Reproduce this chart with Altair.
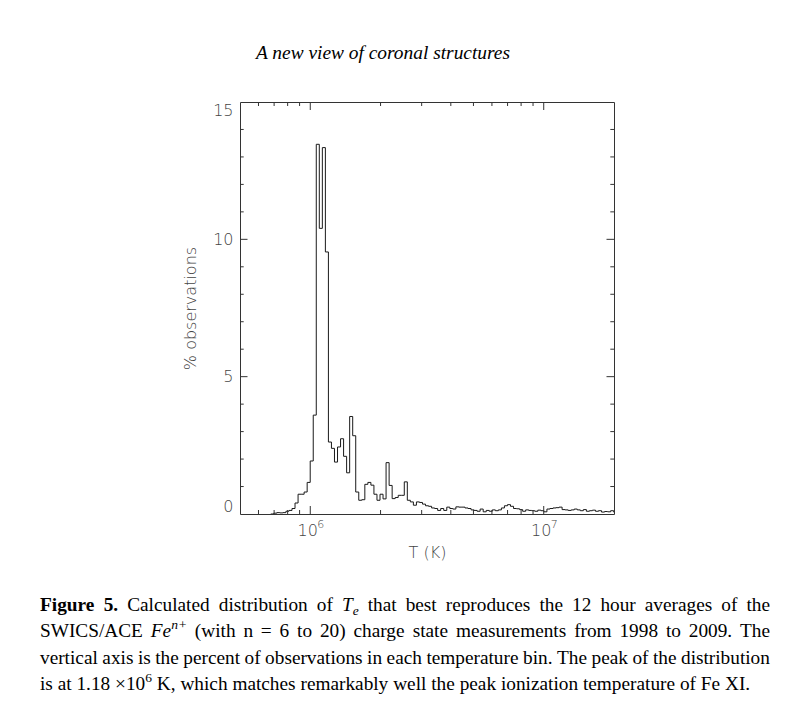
import math
import altair as alt
import pandas as pd

# ---------------- data ----------------
BIN_START_LOG = 6.0257      # log10(T) of the left edge of bin index 0 (tallest bar)
BIN_WIDTH_DEX = 0.013       # bin width in log10(T)
BIN_INDEX_FIRST = -15       # index of the first listed bin
PCT_OBS = [
    0.0, 0.03, 0.05, 0.04, 0.05, 0.1, 0.13, 0.2, 0.4, 0.72, 0.72, 0.8, 1.15, 1.93, 3.6,
    13.46, 10.4, 13.34, 9.54, 2.62, 2.39, 1.89, 2.44, 2.74, 2.1,
    1.5, 3.55, 2.85, 0.8, 0.5, 0.52, 1.08, 1.15, 1.05, 0.72,
    0.5, 0.72, 0.55, 1.87, 1.04, 0.56, 0.6, 0.68, 0.68, 1.17,
    0.5, 0.44, 0.32, 0.44, 0.42, 0.36, 0.3, 0.28, 0.22, 0.2,
    0.13, 0.2, 0.13, 0.25, 0.2, 0.18, 0.26, 0.25, 0.25, 0.22,
    0.2, 0.15, 0.13, 0.1, 0.18, 0.08, 0.13, 0.1, 0.15, 0.12,
    0.15, 0.22, 0.3, 0.34, 0.28, 0.2, 0.19, 0.16, 0.1, 0.15,
    0.13, 0.12, 0.1, 0.14, 0.12, 0.08, 0.18, 0.2, 0.22, 0.23,
    0.25, 0.16, 0.15, 0.13, 0.15, 0.18, 0.15, 0.12, 0.16, 0.1,
    0.12, 0.14, 0.1, 0.12, 0.07, 0.09, 0.08, 0.12, 0.07,
]

X_DOMAIN = [5e5, 2e7]
Y_DOMAIN = [0, 15]
X_MAJOR = [1e6, 1e7]
X_MAJOR_EXP = ["6", "7"]
X_MINOR = [6e5, 7e5, 8e5, 9e5, 2e6, 3e6, 4e6, 5e6, 6e6, 7e6, 8e6, 9e6]
Y_MAJOR = [0, 5, 10, 15]
Y_MINOR = [1, 2, 3, 4, 6, 7, 8, 9, 11, 12, 13, 14]
X_TITLE = "T (K)"
Y_TITLE = "% observations"
HEAD_TITLE = "A new view of coronal structures"

# caption: lines -> tokens -> pieces (text, style)
CAPTION = [
    [[("Figure", "b")], [("5.", "b")], [("Calculated", "r")], [("distribution", "r")], [("of", "r")],
     [("T", "i"), ("e", "isub")], [("that", "r")], [("best", "r")], [("reproduces", "r")], [("the", "r")],
     [("12", "r")], [("hour", "r")], [("averages", "r")], [("of", "r")], [("the", "r")]],
    [[("SWICS/ACE", "r")], [("Fe", "i"), ("n+", "isup")], [("(with", "r")], [("n", "r")], [("=", "r")],
     [("6", "r")], [("to", "r")], [("20)", "r")], [("charge", "r")], [("state", "r")],
     [("measurements", "r")], [("from", "r")], [("1998", "r")], [("to", "r")], [("2009.", "r")], [("The", "r")]],
    [[(w, "r")] for w in "vertical axis is the percent of observations in each temperature bin. The peak of the distribution".split()],
    [[("is", "r")], [("at", "r")], [("1.18", "r")], [("×10", "r"), ("6", "rsup")], [("K,", "r")],
     [("which", "r")], [("matches", "r")], [("remarkably", "r")], [("well", "r")], [("the", "r")],
     [("peak", "r")], [("ionization", "r")], [("temperature", "r")], [("of", "r")], [("Fe", "r")], [("XI.", "r")]],
]
CAPTION_JUSTIFY = [True, True, True, False]

# ---------------- layout ----------------
W, H = 374, 412
PAD_L, PAD_T = 232, 94
ORIGIN_X, ORIGIN_Y = 8 + PAD_L, 8 + PAD_T   # page position of plot-area origin
LINE_COLOR = "#1a1a1a"
AX_COLOR = "#333333"
LABEL_COLOR = "#444444"
LABEL_FONT = "DejaVu Sans"
SERIF = "Liberation Serif"
FS = 19.3
SMALL = 0.7

ppu = H / (Y_DOMAIN[1] - Y_DOMAIN[0])
ppd = W / math.log10(X_DOMAIN[1] / X_DOMAIN[0])

xscale = alt.Scale(type="log", domain=X_DOMAIN, nice=False)
yscale = alt.Scale(domain=Y_DOMAIN, nice=False, zero=False)
XAXIS = alt.Axis(values=X_MAJOR, labelExpr="'10'", labelOffset=-3, ticks=False, domain=False,
                 grid=False, labelFont=LABEL_FONT, labelFontSize=16, labelFontWeight=200,
                 labelColor=LABEL_COLOR, labelPadding=8, title=X_TITLE, titleFont=LABEL_FONT,
                 titleFontSize=16, titleFontWeight=200, titleColor=LABEL_COLOR, titlePadding=6)
YAXIS = alt.Axis(values=Y_MAJOR, ticks=False, domain=False, grid=False, labelFlush=True,
                 labelFont=LABEL_FONT, labelFontSize=16, labelFontWeight=200,
                 labelColor=LABEL_COLOR, labelPadding=7, title=Y_TITLE, titleFont=LABEL_FONT,
                 titleFontSize=16, titleFontWeight=200, titleColor=LABEL_COLOR, titlePadding=14)


def X(field):
    return alt.X(field, type="quantitative", scale=xscale, axis=XAXIS)


def Y(field):
    return alt.Y(field, type="quantitative", scale=yscale, axis=YAXIS)


# ---------------- histogram outline ----------------
n = len(PCT_OBS)
edges = [10 ** (BIN_START_LOG + (BIN_INDEX_FIRST + k) * BIN_WIDTH_DEX) for k in range(n + 1)]
hist = pd.DataFrame({"T": edges, "pct": PCT_OBS + [PCT_OBS[-1]]})

line = alt.Chart(hist).mark_line(
    interpolate="step-after", clip=True, color=LINE_COLOR, strokeWidth=1
).encode(x=X("T"), y=Y("pct"))

# ---------------- inward ticks ----------------
XT_MAJ, XT_MIN, YT_MAJ, YT_MIN = 8.0, 4.0, 7.5, 3.7
rows = []
for vals, ln in ((X_MAJOR, XT_MAJ), (X_MINOR, XT_MIN)):
    for t in vals:
        d = ln / ppu
        rows.append(dict(x1=t, x2=t, y1=Y_DOMAIN[0], y2=Y_DOMAIN[0] + d))
        rows.append(dict(x1=t, x2=t, y1=Y_DOMAIN[1], y2=Y_DOMAIN[1] - d))
for vals, ln in ((Y_MAJOR[1:-1], YT_MAJ), (Y_MINOR, YT_MIN)):
    for v in vals:
        f = 10 ** (ln / ppd)
        rows.append(dict(x1=X_DOMAIN[0], x2=X_DOMAIN[0] * f, y1=v, y2=v))
        rows.append(dict(x1=X_DOMAIN[1], x2=X_DOMAIN[1] / f, y1=v, y2=v))
ticks = alt.Chart(pd.DataFrame(rows)).mark_rule(color=AX_COLOR, strokeWidth=1).encode(
    x=X("x1"), x2="x2:Q", y=Y("y1"), y2="y2:Q",
)


def to_data(px, py):
    """page pixel -> data coordinates of the shared scales"""
    return X_DOMAIN[0] * 10 ** ((px - ORIGIN_X) / ppd), Y_DOMAIN[1] - (py - ORIGIN_Y) / ppu


# exponents of the x tick labels (10^6, 10^7)
exp_rows = []
for t, e in zip(X_MAJOR, X_MAJOR_EXP):
    px = ORIGIN_X + math.log10(t / X_DOMAIN[0]) * ppd + 7
    tx, ty = to_data(px, 527.5)
    exp_rows.append(dict(text=e, tx=tx, ty=ty))
exps = alt.Chart(pd.DataFrame(exp_rows)).mark_text(
    font=LABEL_FONT, fontSize=11, fontWeight=200, color=LABEL_COLOR, align="left", baseline="alphabetic"
).encode(x=X("tx"), y=Y("ty"), text="text:N")

# ---------------- caption text (Times metrics, justified) ----------------
REG_W = {' ': 250, '(': 333, ')': 333, '+': 564, ',': 250, '-': 333, '.': 250, '/': 278, '=': 564, '×': 564}
REG_W.update({d: 500 for d in "0123456789"})
REG_W.update(dict(zip("ABCDEFGHIJKLMNOPQRSTUVWXYZ",
                      [722, 667, 667, 722, 611, 556, 722, 722, 333, 389, 722, 611, 889, 722, 722, 556, 722, 667, 556, 611, 722, 722, 944, 722, 722, 611])))
REG_W.update(dict(zip("abcdefghijklmnopqrstuvwxyz",
                      [444, 500, 444, 500, 444, 333, 500, 500, 278, 278, 500, 278, 778, 500, 500, 500, 500, 333, 389, 278, 500, 500, 722, 500, 500, 444])))
BOLD_W = dict(REG_W)
BOLD_W.update({'F': 611, 'u': 556, 'r': 444})
ITAL_W = dict(REG_W)
ITAL_W.update({'T': 556, 'F': 611, '+': 675})
STYLE_TABLE = {"r": REG_W, "b": BOLD_W, "i": ITAL_W, "isub": ITAL_W, "isup": ITAL_W, "rsup": REG_W}


def pw(text, style):
    sc = SMALL if style in ("isub", "isup", "rsup") else 1.0
    return sum(STYLE_TABLE[style].get(c, 500) for c in text) / 1000.0 * FS * sc


CAP_X0, CAP_X1 = 40, 770
CAP_BASE = [611, 637, 664, 690]
text_rows = []
for li, tokens in enumerate(CAPTION):
    widths = [sum(pw(t, s) for t, s in tok) for tok in tokens]
    if CAPTION_JUSTIFY[li]:
        gap = (CAP_X1 - CAP_X0 - sum(widths)) / (len(tokens) - 1)
    else:
        gap = 0.25 * FS
    x = CAP_X0
    for tok, wd in zip(tokens, widths):
        xx = x
        for t, s in tok:
            dy = 0.0
            if s == "isub":
                dy = 0.2 * FS
            elif s in ("isup", "rsup"):
                dy = -0.4 * FS
            tx, ty = to_data(xx, CAP_BASE[li] + dy)
            text_rows.append(dict(text=t, tx=tx, ty=ty, style=s))
            xx += pw(t, s)
        x += wd + gap
tx, ty = to_data(383, 59)
text_rows.append(dict(text=HEAD_TITLE, tx=tx, ty=ty, style="title"))
tdf = pd.DataFrame(text_rows)

STYLE_PROPS = {
    "r": dict(fontSize=FS, fontStyle="normal", fontWeight="normal", align="left"),
    "b": dict(fontSize=FS, fontStyle="normal", fontWeight="bold", align="left"),
    "i": dict(fontSize=FS, fontStyle="italic", fontWeight="normal", align="left"),
    "isub": dict(fontSize=FS * SMALL, fontStyle="italic", fontWeight="normal", align="left"),
    "isup": dict(fontSize=FS * SMALL, fontStyle="italic", fontWeight="normal", align="left"),
    "rsup": dict(fontSize=FS * SMALL, fontStyle="normal", fontWeight="normal", align="left"),
    "title": dict(fontSize=19.4, fontStyle="italic", fontWeight="normal", align="center"),
}
text_layers = []
for st, props in STYLE_PROPS.items():
    sub = tdf[tdf["style"] == st]
    if len(sub) == 0:
        continue
    text_layers.append(
        alt.Chart(sub).mark_text(font=SERIF, baseline="alphabetic", color="#000", **props).encode(
            x=X("tx"), y=Y("ty"), text="text:N",
        )
    )

chart = alt.layer(line, ticks, exps, *text_layers).properties(
    width=W, height=H,
    autosize=alt.AutoSizeParams(type="none"),
    padding={"left": PAD_L, "top": PAD_T, "right": 176, "bottom": 193},
    background="white",
).configure_view(stroke=AX_COLOR, strokeWidth=1)

chart.save("out.html", embed_options={"renderer": "svg", "actions": False})
